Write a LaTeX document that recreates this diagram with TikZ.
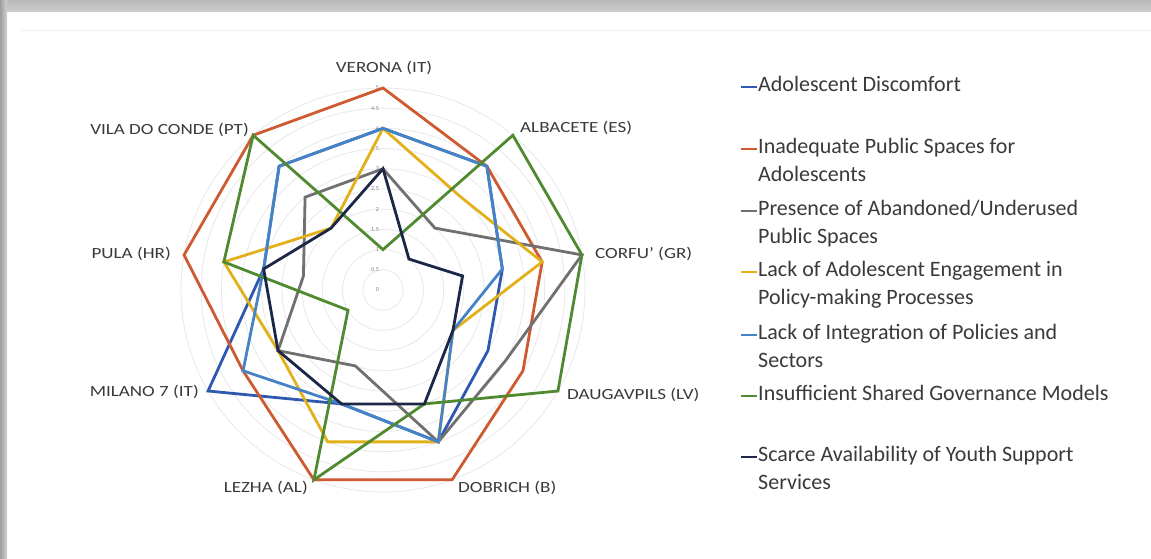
\documentclass[tikz,border=0pt]{standalone}
\usepackage{fontspec}
\usepackage{graphicx}
\setmainfont{Carlito}
\definecolor{cBlue}{HTML}{2F58B0}
\definecolor{cRed}{HTML}{CD5A30}
\definecolor{cGray}{HTML}{707070}
\definecolor{cYellow}{HTML}{E2B11A}
\definecolor{cLBlue}{HTML}{4683C6}
\definecolor{cGreen}{HTML}{4F8A30}
\definecolor{cNavy}{HTML}{1C2747}
\definecolor{cText}{HTML}{3A3A3A}
\newcommand\radarseries[3]{%
  \draw[serie,#1] (90:{#2*40.4}) \foreach \v [count=\i from 1] in {#3} { -- ({90-40*\i}:{\v*40.4}) } -- cycle;}
\newcommand\widetext[1]{\scalebox{1.23}[1]{#1}}
\begin{document}
\begin{tikzpicture}[x=1pt,y=-1pt,
  serie/.style={line width=2.8pt,line join=miter},
  axislabel/.style={font=\fontsize{15.5}{17}\selectfont,text=cText,inner sep=0pt},
  legtext/.style={font=\fontsize{22}{28}\selectfont,text=cText,anchor=west,align=left,inner sep=0pt},
  legmark/.style={line width=2.2pt},
  ticklabel/.style={font=\fontsize{6}{7}\selectfont,text=gray,anchor=east,inner sep=0pt},
  gridring/.style={draw=black!9,line width=0.8pt}]
\useasboundingbox (0,0) rectangle (1151,558);
\fill[white] (0,0) rectangle (1151,558);
% frame
\shade[top color=black!28,bottom color=black!20] (0,0) rectangle (1151,11);
\shade[left color=black!38,right color=black!18] (0,0) rectangle (7,558);
\draw[black!6,line width=1pt] (20,30) -- (1151,30);
% radar
\begin{scope}[shift={(383,290)},y=1pt]
  \foreach \k in {1,...,10} \draw[gridring] (0,0) circle ({\k*20.2});
  \foreach \t/\lab in {0/0,1/0.5,2/1,3/1.5,4/2,5/2.5,6/3,7/3.5,8/4,9/4.5,10/5}
    \node[ticklabel] (tick\t) at (-4,{\t*20.2}) {\lab};
  \radarseries{cBlue}{4}{4,3,3,4,3,5,3,4}
  \radarseries{cRed}{5}{4,4,4,5,5,4,5,5}
  \radarseries{cGray}{3}{2,5,3.5,4,2,3,2,3}
  \radarseries{cYellow}{4}{3,4,2,4,4,3,4,2}
  \radarseries{cLBlue}{4}{4,3,2,4,3,4,3,4}
  \radarseries{cGreen}{1}{5,5,5,3,5,1,4,5}
  \radarseries{cNavy}{3}{1,2,2,3,3,3,3,2}
\end{scope}
% axis labels
\node[axislabel] (lVer) at (384,68) {\widetext{VERONA (IT)}};
\node[axislabel,anchor=west] (lAlb) at (520,128) {\widetext{ALBACETE (ES)}};
\node[axislabel,anchor=west] (lCor) at (595,254) {\widetext{CORFU' (GR)}};
\node[axislabel,anchor=west] (lDau) at (567,395) {\widetext{DAUGAVPILS (LV)}};
\node[axislabel,anchor=west] (lDob) at (458,488) {\widetext{DOBRICH (B)}};
\node[axislabel,anchor=east] (lLez) at (308,488) {\widetext{LEZHA (AL)}};
\node[axislabel,anchor=east] (lMil) at (199,392) {\widetext{MILANO 7 (IT)}};
\node[axislabel,anchor=east] (lPul) at (171,254) {\widetext{PULA (HR)}};
\node[axislabel,anchor=east] (lVil) at (249,130) {\widetext{VILA DO CONDE (PT)}};
% legend
\foreach \y/\col/\txt [count=\n] in {
  87/cBlue/{Adolescent Discomfort},
  149/cRed/{Inadequate Public Spaces for\\Adolescents},
  211/cGray/{Presence of Abandoned/Underused\\Public Spaces},
  272/cYellow/{Lack of Adolescent Engagement in\\Policy-making Processes},
  335/cLBlue/{Lack of Integration of Policies and\\Sectors},
  396/cGreen/{Insufficient Shared Governance Models},
  457/cNavy/{Scarce Availability of Youth Support\\Services}}{
  \coordinate (m\n a) at (741,\y);
  \coordinate (m\n b) at (757,\y);
  \draw[legmark,\col] (m\n a) -- (m\n b);
  \node[legtext,anchor=north west] (leg\n) at (758,{\y-11}) {\txt};
}
\end{tikzpicture}
\end{document}
